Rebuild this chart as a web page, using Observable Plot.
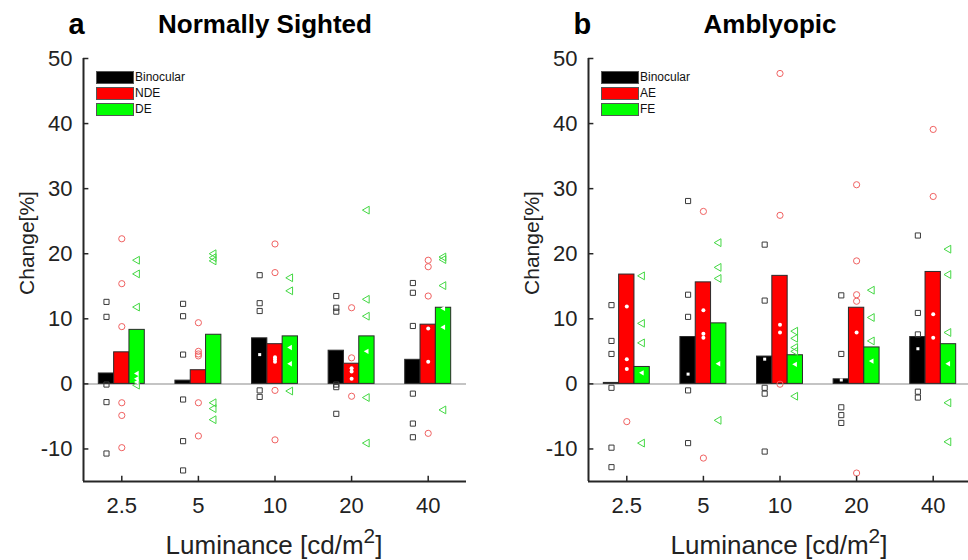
<!DOCTYPE html>
<html><head><meta charset="utf-8">
<script src="https://cdn.jsdelivr.net/npm/d3@7"></script>
<script src="https://cdn.jsdelivr.net/npm/@observablehq/plot@0.6"></script>
<style>
html,body{margin:0;padding:0;background:#fff;overflow:hidden;}
#wrap{position:relative;width:968px;height:560px;overflow:hidden;font-family:"Liberation Sans",Arial,sans-serif;}
.panel{position:absolute;top:0;width:505px;height:560px;}
.sw{position:absolute;width:36px;height:11px;border:1px solid #555;}
.lt{position:absolute;font-size:12px;line-height:12px;color:#111;white-space:nowrap;}
.yl{position:absolute;left:26px;top:243px;font-size:21px;line-height:21px;color:#222;white-space:nowrap;transform:translate(-50%,-50%) rotate(-90deg);}
</style></head><body><div id="wrap"></div>
<script>
// ---- categories / tick labels ----
const luminance = ["2.5", "5", "10", "20", "40"];
const yTicks = [-10, 0, 10, 20, 30, 40, 50];
const seriesA = ["Binocular", "NDE", "DE"];
const seriesB = ["Binocular", "AE", "FE"];
const titleA = "Normally Sighted";
const titleB = "Amblyopic";
const yLabel = "Change[%]";

// ---- panel a: means (bars) ----
const meanA_bin = [1.6, 0.5, 7.0, 5.1, 3.7];
const meanA_nde = [4.85, 2.1, 6.1, 3.1, 9.1];
const meanA_de  = [8.3, 7.55, 7.3, 7.3, 11.7];
// ---- panel a: individual subjects ----
const ptsA_bin = [[12.6, 10.3, -0.1, -2.8, -10.7], [12.3, 10.4, 4.5, -2.4, -8.8, -13.3], [16.7, 12.4, 11.2, 4.5, -1.0, -2.0], [13.5, 11.7, 11.1, -0.1, -0.5, -4.6], [15.5, 14.0, 8.9, -1.5, -6.1, -8.2]];
const ptsA_nde = [[22.3, 15.4, 8.8, -2.9, -4.85, -9.8], [9.4, 5.0, 4.6, 4.3, -2.9, -8.0], [21.5, 17.1, 4.1, 3.8, 3.4, -1.0, -8.6], [11.7, 4.0, 2.4, 1.9, 0.8, -1.9], [19.0, 18.0, 13.5, 8.5, 3.4, -7.6]];
const ptsA_de  = [[19.0, 16.9, 11.8, 1.6, 0.8, 0.3, -0.2], [20.0, 19.4, 18.9, -2.9, -3.8, -5.5], [16.3, 14.3, 5.6, 3.1, -1.1], [26.7, 13.0, 10.4, 5.0, -2.1, -9.1], [19.5, 19.1, 15.1, 11.6, 8.7, -4.0]];

// ---- panel b: means (bars) ----
const meanB_bin = [0.15, 7.2, 4.2, 0.7, 7.2];
const meanB_ae  = [16.8, 15.6, 16.6, 11.7, 17.2];
const meanB_fe  = [2.6, 9.3, 4.4, 5.6, 6.1];
// ---- panel b: individual subjects ----
const ptsB_bin = [[12.1, 6.6, 4.6, -0.6, -9.8, -12.8], [28.1, 13.7, 10.3, 1.5, -1.0, -9.1], [21.4, 12.8, 3.8, -0.6, -1.5, -10.4], [13.6, 4.6, 0.6, -3.6, -4.8, -6.0], [22.8, 10.9, 7.6, 5.4, -1.2, -2.1]];
const ptsB_ae  = [[11.9, 3.8, 2.3, -5.8], [26.5, 11.3, 7.7, 7.1, -11.4], [47.7, 25.9, 9.1, 7.9, -0.05], [30.6, 18.9, 13.7, 12.7, 7.9, -13.7], [39.1, 28.8, 10.7, 7.1]];
const ptsB_fe  = [[16.6, 9.3, 6.3, 1.7, -9.1], [21.7, 17.9, 16.2, 3.1, -5.6], [8.1, 7.0, 5.6, 5.0, 3.0, -1.9], [14.4, 10.2, 6.6, 3.5], [20.7, 16.8, 7.9, 3.1, -2.9, -8.9]];

// ---- styles ----
const barColors = ["#000000", "#ff0000", "#00ff00"];
const pointStroke = ["#3a3a3a", "#f06262", "#44d844"];
const symbols = ["square", "circle", "triangle"];
const hollowR = [2.9, 3.1, 2.9];
const whiteR = [1.7, 2.0, 2.0];
const FONT = "Liberation Sans, Arial, sans-serif";
const AX = "#262626";

function panel(letter, title, means, pts) {
  const bars = [], dots = [];
  means.forEach((arr, s) => arr.forEach((v, i) => bars.push({s, i, x: i + 1 + (s - 1) * 0.2, v})));
  pts.forEach((cat, s) => cat.forEach((vals, i) => vals.forEach(v => {
    const m = means[s][i];
    const inside = m >= 0 ? (v >= 0 && v <= m) : (v <= 0 && v >= m);
    dots.push({s, i, x: i + 1 + (s - 1) * 0.2, v, inside});
  })));
  const dotMarks = [];
  for (let s = 0; s < 3; s++) {
    const rot = s === 2 ? -90 : 0;
    dotMarks.push(Plot.dot(dots.filter(d => d.s === s && !d.inside), {
      x: "x", y: "v", symbol: symbols[s], r: hollowR[s], stroke: pointStroke[s], fill: "none", strokeWidth: 1, rotate: rot
    }));
    dotMarks.push(Plot.dot(dots.filter(d => d.s === s && d.inside), {
      x: "x", y: "v", symbol: symbols[s], r: whiteR[s], fill: "white", stroke: "none", rotate: rot
    }));
  }
  const svg = Plot.plot({
    width: 505, height: 560,
    marginLeft: 83, marginRight: 39, marginTop: 58, marginBottom: 79,
    x: {domain: [0.5, 5.5], axis: null},
    y: {domain: [-15, 50], axis: null},
    style: {fontFamily: FONT, background: "white", overflow: "visible", color: "#222"},
    marks: [
      Plot.ruleY([0], {x1: 0.5, x2: 5.5, stroke: "#b0b0b0", strokeWidth: 1.5}),
      Plot.rect(bars, {x1: d => d.x - 0.1, x2: d => d.x + 0.1, y1: 0, y2: "v", fill: d => barColors[d.s], stroke: "#2a2a2a", strokeWidth: 1}),
      ...dotMarks,
      // axes
      Plot.ruleX([0.5], {y1: -15, y2: 50, stroke: AX, strokeWidth: 2}),
      Plot.ruleY([-15], {x1: 0.5, x2: 5.5, stroke: AX, strokeWidth: 2.2}),
      Plot.ruleY(yTicks, {x1: 0.5, x2: 0.57, stroke: AX, strokeWidth: 1.5}),
      Plot.ruleX(luminance.map((d, i) => i + 1), {y1: -15, y2: -14.2, stroke: AX, strokeWidth: 1.5}),
      Plot.text(yTicks, {x: 0.5, y: d => d, text: d => String(d), textAnchor: "end", dx: -11, fontSize: 22, fill: "#222"}),
      Plot.text(luminance, {x: (d, i) => i + 1, y: -15, text: d => d, dy: 16, lineAnchor: "top", fontSize: 22, fill: "#222"}),
      Plot.text(["Luminance [cd/m2]"], {frameAnchor: "bottom", dx: -1, dy: 72, lineAnchor: "bottom", fontSize: 26, fill: "#222"}),
      Plot.text([title], {frameAnchor: "top", dx: -10, dy: -26, lineAnchor: "bottom", fontSize: 26, fontWeight: "bold", fill: "#000"}),
      Plot.text([letter], {frameAnchor: "top-left", dx: -15, dy: -25, lineAnchor: "bottom", textAnchor: "start", fontSize: 29, fontWeight: "bold", fill: "#000"})
    ]
  });
  // superscript for the unit
  d3.select(svg).selectAll("text").filter(function () { return this.textContent === "Luminance [cd/m2]"; })
    .each(function () {
      const t = d3.select(this);
      t.text(null);
      t.append("tspan").text("Luminance [cd/m");
      t.append("tspan").attr("dy", "-0.5em").attr("font-size", "0.8em").text("2");
      t.append("tspan").attr("dy", "0.4em").text("]");
    });
  return svg;
}

function legend(div, names) {
  names.forEach((n, k) => {
    const sw = document.createElement("div");
    sw.className = "sw";
    sw.style.left = "96px"; sw.style.top = (71 + k * 16) + "px";
    sw.style.background = barColors[k];
    div.appendChild(sw);
    const lt = document.createElement("div");
    lt.className = "lt";
    lt.style.left = "135px"; lt.style.top = (71 + k * 16) + "px";
    lt.textContent = n;
    div.appendChild(lt);
  });
  const yl = document.createElement("div");
  yl.className = "yl";
  yl.textContent = yLabel;
  div.appendChild(yl);
}

const wrap = document.getElementById("wrap");
const pa = document.createElement("div"); pa.className = "panel"; pa.style.left = "0px";
const pb = document.createElement("div"); pb.className = "panel"; pb.style.left = "505px";
pa.appendChild(panel("a", titleA, [meanA_bin, meanA_nde, meanA_de], [ptsA_bin, ptsA_nde, ptsA_de]));
pb.appendChild(panel("b", titleB, [meanB_bin, meanB_ae, meanB_fe], [ptsB_bin, ptsB_ae, ptsB_fe]));
legend(pa, seriesA);
legend(pb, seriesB);
wrap.appendChild(pa);
wrap.appendChild(pb);
</script></body></html>
